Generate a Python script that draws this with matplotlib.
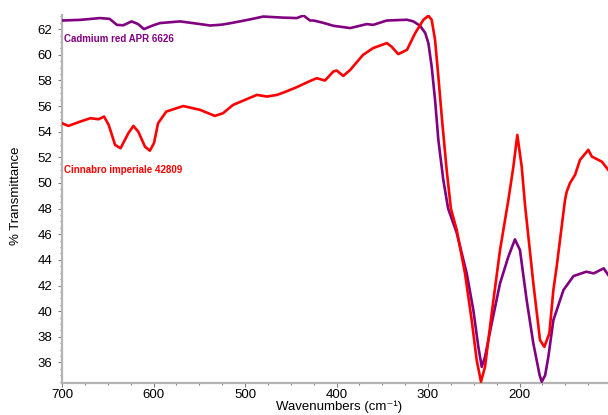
import matplotlib
matplotlib.use("Agg")
import matplotlib.pyplot as plt
from matplotlib.ticker import MultipleLocator

plt.rcParams['font.family'] = ['Liberation Sans', 'DejaVu Sans']

# Cadmium red APR 6626 spectrum
cad_wn = [700, 680, 658.5, 648, 640, 633, 624, 617, 610.4, 602, 593, 571, 555, 538,
          525, 513, 495, 480, 460, 443.5, 436, 429, 425, 415, 403.5, 385, 367, 360,
          345, 323, 316, 308.7, 303, 299.6, 296, 292.3, 288.7, 283.3, 278, 268.6,
          257.7, 250.5, 245, 241.3, 237.7, 230.4, 221.3, 212.2, 205, 199.5, 192.2,
          184.9, 178, 175.7, 172, 168.5, 163, 152, 141, 127, 119, 108, 103]
cad_t = [62.67, 62.72, 62.86, 62.8, 62.33, 62.3, 62.6, 62.4, 62.0, 62.25, 62.47, 62.6,
         62.45, 62.28, 62.35, 62.5, 62.75, 62.98, 62.9, 62.86, 63.06, 62.67, 62.67,
         62.5, 62.26, 62.08, 62.39, 62.33, 62.67, 62.73, 62.6, 62.26, 61.69, 60.9,
         59.08, 56.48, 53.36, 50.24, 48.0, 46.1, 42.95, 40.1, 37.22, 35.66, 36.44,
         39.05, 42.17, 44.25, 45.6, 44.77, 40.87, 37.49, 35.0, 34.5, 35.0, 36.44,
         39.3, 41.65, 42.74, 43.08, 42.95, 43.34, 42.82]

# Cinnabro imperiale 42809 spectrum
cin_wn = [700, 693, 680, 669, 660, 654, 649, 642, 636, 627.5, 622, 616.6, 609.3, 604,
          599.5, 595, 586, 567.5, 549, 533, 524, 513, 487, 476, 465, 458, 443.5, 429,
          421.6, 412.6, 403.5, 399.8, 392.6, 385, 371, 360, 345, 340, 332.5, 323, 314,
          305, 299.6, 296, 292.3, 288.7, 285, 279.6, 275, 268.6, 259.6, 252.3, 246.8,
          242.1, 237.7, 230.4, 221.3, 212.2, 206.7, 202.4, 197.6, 194, 184.9, 177.6,
          172.9, 167.4, 163, 159.4, 150.3, 148.5, 144.8, 139.3, 133.9, 124.8, 121,
          110, 103]
cin_t = [54.66, 54.45, 54.79, 55.05, 54.97, 55.18, 54.53, 52.97, 52.71, 53.88, 54.45,
         54.0, 52.83, 52.52, 53.1, 54.66, 55.57, 56.0, 55.7, 55.23, 55.44, 56.09, 56.87,
         56.74, 56.87, 57.05, 57.47, 57.95, 58.17, 57.99, 58.69, 58.77, 58.35, 58.82,
         59.99, 60.52, 60.91, 60.64, 60.05, 60.38, 61.69, 62.73, 63.04, 62.73, 61.16,
         58.3, 55.18, 51.0, 48.0, 46.33, 42.95, 39.31, 36.18, 34.5, 35.66, 39.83, 44.77,
         48.67, 51.27, 53.75, 51.27, 48.3, 42.17, 37.75, 37.22, 38.27, 41.65, 43.47,
         48.67, 49.3, 50.0, 50.63, 51.8, 52.58, 52.06, 51.66, 51.02]

x_ticks = [700, 600, 500, 400, 300, 200]
y_ticks = list(range(36, 63, 2))

fig = plt.figure(figsize=(6.08, 4.15), dpi=100)
ax = fig.add_axes([62 / 608, 1 - 383 / 415, 1 - 62 / 608, (383 - 15) / 415])

ax.plot(cad_wn, cad_t, color='#800080', lw=1.9, solid_joinstyle='round', zorder=3)
ax.plot(cin_wn, cin_t, color='#ff0000', lw=1.9, solid_joinstyle='round', zorder=4)

ax.set_xlim(700, 103.3)
ax.set_ylim(34.4, 63.1)
ax.set_xticks(x_ticks)
ax.set_yticks(y_ticks)
ax.xaxis.set_minor_locator(MultipleLocator(25))
ax.yaxis.set_minor_locator(MultipleLocator(0.5))

for side in ('top', 'right'):
    ax.spines[side].set_visible(False)
for side in ('left', 'bottom'):
    ax.spines[side].set_color('#b4b4b4')
    ax.spines[side].set_linewidth(1.6)

ax.tick_params(which='major', length=3, width=0.8, color='#808080',
               labelsize=9.5, labelcolor='black')
ax.tick_params(axis='x', which='major', pad=1.0)
ax.tick_params(axis='y', which='major', pad=4)
ax.tick_params(which='minor', length=1.5, width=0.8, color='#808080')

ax.set_xlabel('Wavenumbers (cm\u207b\u00b9)', fontsize=9.5, va='center')
ax.xaxis.set_label_coords(339 / 608, 1 - 407 / 415, transform=fig.transFigure)
ax.set_ylabel('% Transmittance', fontsize=9.5)
ax.yaxis.set_label_coords(22 / 608, 1 - 196 / 415, transform=fig.transFigure)

fig.text(64 / 608, 1 - 39 / 415, 'Cadmium red APR 6626', color='#800080',
         fontsize=7, fontweight='bold', va='center', ha='left')
fig.text(64 / 608, 1 - 170 / 415, 'Cinnabro imperiale 42809', color='#ff0000',
         fontsize=7, fontweight='bold', va='center', ha='left')

fig.savefig('out.png', dpi=100)
